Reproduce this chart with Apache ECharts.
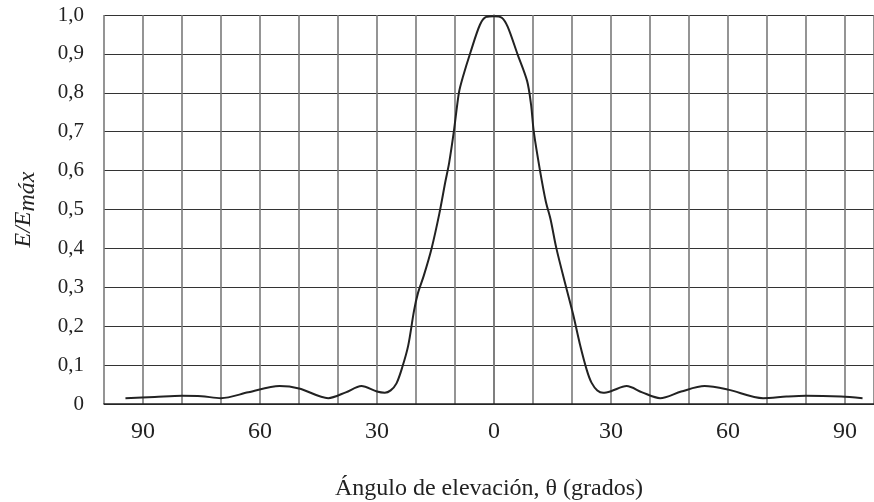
<!DOCTYPE html>
<html>
<head>
<meta charset="utf-8">
<script src="https://cdn.jsdelivr.net/npm/echarts@6/dist/echarts.min.js"></script>
<style>
html,body{margin:0;padding:0;background:#fff;}
#chart{width:874px;height:502px;}
</style>
</head>
<body>
<div id="chart"></div>
<script>
// Elevation angle (degrees, negative = left side) and normalised field E/Emax
const angles = [-94.5,-87,-80,-75,-70,-63,-55,-50,-42.5,-38,-34,-30,-28,-26.5,-25,-23.5,-22,-20.5,-19.5,-18,-16,-14,-12.5,-11.5,-10.3,-9,-8,-6,-3.6,-2,0,2,3.5,6,8.5,9.5,10.2,11.8,13.3,14.5,16,18.5,20.3,22,23.8,25,26.5,28,30,34,38,42.6,48,54,60,69,75,80,89,94.5];
const field = [0.015,0.018,0.021,0.020,0.015,0.030,0.046,0.040,0.015,0.030,0.046,0.032,0.029,0.035,0.053,0.095,0.150,0.240,0.285,0.330,0.400,0.490,0.570,0.620,0.700,0.800,0.840,0.905,0.975,0.995,0.997,0.993,0.970,0.900,0.830,0.770,0.700,0.600,0.520,0.475,0.400,0.300,0.230,0.155,0.087,0.055,0.035,0.029,0.033,0.046,0.030,0.015,0.032,0.046,0.037,0.015,0.019,0.021,0.019,0.015];
const xTickLabels = [-90,-60,-30,0,30,60,90];
const yTickLabels = ['0','0,1','0,2','0,3','0,4','0,5','0,6','0,7','0,8','0,9','1,0'];

const data = angles.map((a,i)=>[a, field[i]]);
const serif = '"Liberation Serif","DejaVu Serif",serif';

const chart = echarts.init(document.getElementById('chart'));
chart.setOption({
  animation:false,
  backgroundColor:'#fff',
  grid:{left:104, top:15, right:0, bottom:98, containLabel:false, outerBoundsMode:'none'},
  xAxis:{
    type:'value', min:-100, max:97.44, interval:10,
    axisLine:{show:true, lineStyle:{color:'#222', width:1.5}},
    axisTick:{show:false},
    splitLine:{show:true, lineStyle:{color:'#7a7a7a', width:1.6}},
    axisLabel:{
      margin:16, fontFamily:serif, fontSize:24, color:'#222',
      showMinLabel:true, showMaxLabel:true,
      formatter:v=> (Math.abs(v-Math.round(v))<1e-6 && xTickLabels.indexOf(Math.round(v))>=0) ? String(Math.abs(Math.round(v))) : ''
    },
    name:'Ángulo de elevación, θ (grados)',
    nameLocation:'middle', nameGap:73,
    nameTextStyle:{fontFamily:serif, fontSize:24, color:'#222'}
  },
  yAxis:{
    type:'value', min:0, max:1, interval:0.1,
    axisLine:{show:true, lineStyle:{color:'#7a7a7a', width:1.6}},
    axisTick:{show:false},
    splitLine:{show:true, lineStyle:{color:'#333', width:1.2}},
    axisLabel:{
      margin:20, fontFamily:serif, fontSize:21, color:'#222',
      formatter:v=> yTickLabels[Math.round(v*10)]
    },
    name:'{a|E/E}{b|máx}',
    nameLocation:'middle', nameGap:64, nameRotate:90,
    nameTextStyle:{
      fontFamily:serif, fontSize:24, color:'#222',
      rich:{
        a:{fontFamily:serif, fontSize:24, fontStyle:'italic', color:'#222'},
        b:{fontFamily:serif, fontSize:24, fontStyle:'italic', color:'#222', padding:[8,0,0,0]}
      }
    }
  },
  series:[{
    type:'line', data:data, smooth:0.3, showSymbol:false,
    lineStyle:{color:'#222', width:2}
  }]
});
</script>
</body>
</html>
